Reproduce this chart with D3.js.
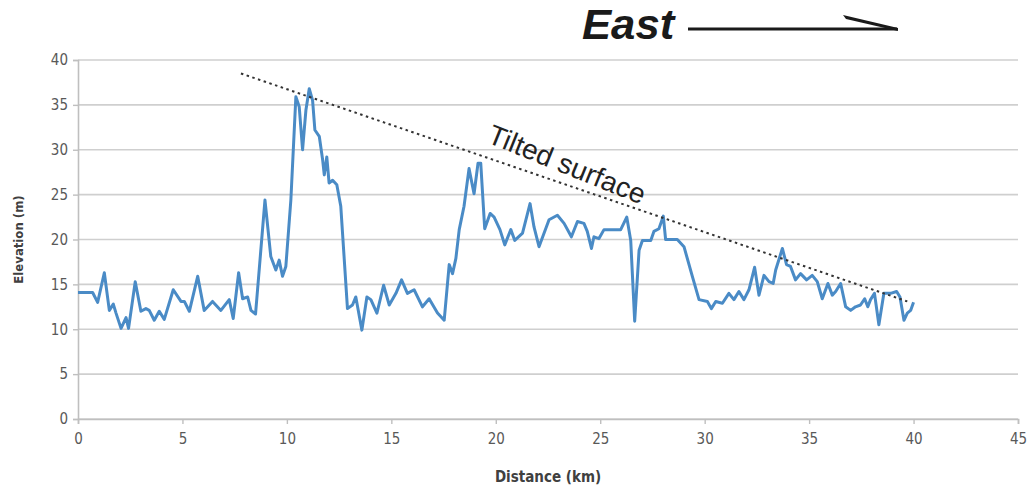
<!DOCTYPE html>
<html>
<head>
<meta charset="utf-8">
<script src="https://cdn.jsdelivr.net/npm/d3@7"></script>
<style>
	body { margin: 0; background: #fff; }
	svg { display: block; }
	.tick text { font-family: 'Liberation Sans Narrow', 'DejaVu Sans Condensed', 'Liberation Sans', sans-serif; font-size: 15px; fill: #595959; }
	.axis-title { font-family: 'Liberation Sans Narrow', 'DejaVu Sans Condensed', 'Liberation Sans', sans-serif; font-weight: bold; fill: #404040; }
</style>
</head>
<body>
<script>

// Profiel data
const distanceKm = [
	0.0, 0.7, 0.94, 1.26, 1.5, 1.69, 1.82, 2.06, 2.3, 2.42, 2.74, 3.01, 3.25, 3.41, 3.65, 3.89, 4.13, 4.56, 4.93, 5.09,
	5.33, 5.73, 6.04, 6.44, 6.84, 7.24, 7.43, 7.69, 7.88, 8.12, 8.28, 8.5, 8.95, 9.23, 9.47, 9.63, 9.79, 9.95, 10.19, 10.43,
	10.59, 10.75, 10.91, 11.07, 11.23, 11.34, 11.55, 11.71, 11.79, 11.91, 12.02, 12.19, 12.39, 12.58, 12.9, 13.14, 13.3, 13.59, 13.83, 14.02,
	14.31, 14.63, 14.9, 15.22, 15.49, 15.77, 16.09, 16.49, 16.81, 17.21, 17.53, 17.77, 17.93, 18.09, 18.25, 18.48, 18.72, 18.96, 19.15, 19.28,
	19.47, 19.73, 19.92, 20.2, 20.43, 20.72, 20.91, 21.28, 21.64, 21.83, 22.07, 22.55, 22.95, 23.27, 23.62, 23.91, 24.22, 24.38, 24.58, 24.7,
	24.94, 25.18, 25.98, 26.27, 26.46, 26.65, 26.86, 27.02, 27.42, 27.57, 27.81, 28.02, 28.13, 28.69, 29.01, 29.41, 29.73, 30.13, 30.32, 30.53,
	30.85, 31.16, 31.4, 31.64, 31.88, 32.12, 32.39, 32.6, 32.84, 33.08, 33.28, 33.4, 33.72, 33.92, 34.11, 34.35, 34.59, 34.88, 35.15, 35.39,
	35.63, 35.9, 36.11, 36.27, 36.51, 36.75, 36.99, 37.22, 37.46, 37.66, 37.81, 37.94, 38.13, 38.34, 38.58, 38.9, 39.19, 39.35, 39.54, 39.7,
	39.86, 40.0
]

const elevationM = [
	14.1, 14.1, 13.0, 16.3, 12.1, 12.8, 11.8, 10.1, 11.3, 10.1, 15.3, 12.0, 12.3, 12.1, 11.0, 12.0, 11.1, 14.4, 13.1, 13.1,
	12.0, 15.9, 12.1, 13.1, 12.1, 13.3, 11.2, 16.3, 13.4, 13.6, 12.1, 11.7, 24.4, 18.1, 16.6, 17.7, 15.9, 17.0, 24.4, 35.9,
	34.8, 30.0, 34.4, 36.8, 35.5, 32.2, 31.5, 28.9, 27.2, 29.2, 26.3, 26.6, 26.1, 23.7, 12.3, 12.7, 13.6, 9.9, 13.6, 13.3,
	11.8, 14.9, 12.7, 14.0, 15.5, 14.0, 14.4, 12.5, 13.4, 11.8, 11.0, 17.2, 16.2, 17.9, 21.1, 23.7, 27.9, 25.1, 28.5, 28.5,
	21.2, 22.9, 22.5, 21.1, 19.4, 21.1, 19.9, 20.7, 24.0, 21.4, 19.2, 22.2, 22.7, 21.8, 20.3, 22.0, 21.8, 20.9, 19.0, 20.3,
	20.1, 21.1, 21.1, 22.5, 19.9, 10.9, 18.8, 19.9, 19.9, 20.9, 21.2, 22.6, 20.0, 20.0, 19.2, 15.9, 13.3, 13.1, 12.3, 13.1,
	12.9, 14.0, 13.3, 14.2, 13.3, 14.4, 16.9, 13.8, 16.0, 15.3, 15.1, 16.6, 19.0, 17.2, 17.0, 15.5, 16.2, 15.5, 16.0, 15.3,
	13.4, 15.1, 13.8, 14.2, 15.1, 12.5, 12.1, 12.5, 12.7, 13.4, 12.5, 13.3, 14.0, 10.5, 14.0, 14.0, 14.2, 13.6, 11.0, 11.8,
	12.1, 13.0
]

// Stippellijn "Tilted surface" (begin en eind)
const tiltKm = [ 7.8, 39.7 ]
const tiltM = [ 38.5, 13.1 ]

const xTicks = [ 0, 5, 10, 15, 20, 25, 30, 35, 40, 45 ]
const yTicks = [ 0, 5, 10, 15, 20, 25, 30, 35, 40 ]

const width = 1036,
	height = 496,
	margin = { top: 60, right: 18, bottom: 77, left: 78 }

const svg = d3.select( 'body' )
	.append( 'svg' )
	.attr( 'width', width )
	.attr( 'height', height )

const x = d3.scaleLinear()
	.domain( [ 0, 45 ] )
	.range( [ margin.left, width - margin.right ] )

const y = d3.scaleLinear()
	.domain( [ 0, 40 ] )
	.range( [ height - margin.bottom, margin.top ] )

// Horizontale gridlijnen
svg.append( 'g' )
	.selectAll( 'line' )
	.data( yTicks )
	.enter()
	.append( 'line' )
	.attr( 'x1', x( 0 ) )
	.attr( 'x2', x( 45 ) )
	.attr( 'y1', d => y( d ) )
	.attr( 'y2', d => y( d ) )
	.attr( 'stroke', '#cfcfcf' )
	.attr( 'stroke-width', 1.6 )

// Y as
svg.append( 'g' )
	.attr( 'transform', `translate( ${ x( 0 ) }, 0 )` )
	.call( d3.axisLeft( y ).tickValues( yTicks ).tickSize( 5 ).tickPadding( 5 ) )

// X as
svg.append( 'g' )
	.attr( 'transform', `translate( 0, ${ y( 0 ) } )` )
	.call( d3.axisBottom( x ).tickValues( xTicks ).tickSize( 5 ).tickPadding( 9 ) )

svg.selectAll( '.domain' ).attr( 'stroke', '#bfbfbf' ).attr( 'stroke-width', 1.6 )
svg.selectAll( '.tick line' ).attr( 'stroke', '#bfbfbf' ).attr( 'stroke-width', 1.4 )

// Profiel lijn
const line = d3.line()
	.x( ( d, i ) => x( distanceKm[ i ] ) )
	.y( d => y( d ) )

svg.append( 'path' )
	.datum( elevationM )
	.attr( 'fill', 'none' )
	.attr( 'stroke', '#4a8bc6' )
	.attr( 'stroke-width', 3 )
	.attr( 'stroke-linejoin', 'round' )
	.attr( 'd', line )

// Gekantelde oppervlak
svg.append( 'line' )
	.attr( 'x1', x( tiltKm[ 0 ] ) )
	.attr( 'y1', y( tiltM[ 0 ] ) )
	.attr( 'x2', x( tiltKm[ 1 ] ) )
	.attr( 'y2', y( tiltM[ 1 ] ) )
	.attr( 'stroke', '#333' )
	.attr( 'stroke-width', 2 )
	.attr( 'stroke-dasharray', '2.5 3.5' )

svg.append( 'text' )
	.attr( 'transform', `translate( 486, 142 ) rotate( 22 )` )
	.style( 'font-family', 'Liberation Sans, Arial, sans-serif' )
	.style( 'font-size', '28px' )
	.attr( 'fill', '#222' )
	.text( 'Tilted surface' )

// East pijl
svg.append( 'text' )
	.attr( 'transform', 'translate( 582, 39 ) scale( 1.04, 1 )' )
	.style( 'font-family', 'Liberation Sans, Arial, sans-serif' )
	.style( 'font-size', '42px' )
	.style( 'font-weight', 'bold' )
	.style( 'font-style', 'italic' )
	.attr( 'fill', '#1a1a1a' )
	.text( 'East' )

svg.append( 'line' )
	.attr( 'x1', 688 )
	.attr( 'x2', 897 )
	.attr( 'y1', 29 )
	.attr( 'y2', 29 )
	.attr( 'stroke', '#1a1a1a' )
	.attr( 'stroke-width', 3 )

svg.append( 'path' )
	.attr( 'd', 'M 843 15 L 898 28 L 898 31 L 846 19 Z' )
	.attr( 'fill', '#1a1a1a' )

// As titels
svg.append( 'text' )
	.attr( 'class', 'axis-title' )
	.attr( 'x', ( x( 0 ) + x( 45 ) ) / 2 )
	.attr( 'y', 482 )
	.attr( 'text-anchor', 'middle' )
	.style( 'font-size', '15px' )
	.text( 'Distance (km)' )

svg.append( 'text' )
	.attr( 'class', 'axis-title' )
	.attr( 'transform', `translate( 23, ${ y( 20 ) } ) rotate( -90 )` )
	.attr( 'text-anchor', 'middle' )
	.style( 'font-size', '13px' )
	.text( 'Elevation (m)' )

</script>
</body>
</html>
